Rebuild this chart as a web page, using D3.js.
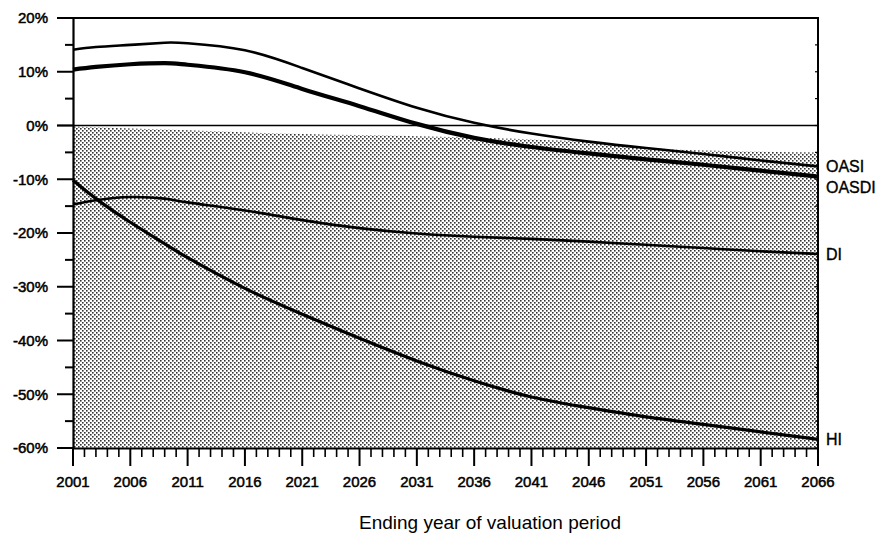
<!DOCTYPE html>
<html><head><meta charset="utf-8">
<script src="https://cdn.jsdelivr.net/npm/d3@7/dist/d3.min.js"></script>
<style>
html,body{margin:0;padding:0;background:#fff;overflow:hidden;}
text{font-family:"Liberation Sans",Arial,Helvetica,sans-serif;fill:#000;}
</style></head>
<body>
<svg id="chart" width="882" height="539"></svg>
<script>
// ---- data ----
const years = [2001,2003,2006,2009,2011,2016,2021,2026,2031,2036,2041,2046,2051,2056,2061,2066];
const oasi  = [14.1,14.6,15.0,15.4,15.3,14.0,10.7,6.9,3.3,0.5,-1.5,-3.0,-4.2,-5.3,-6.5,-7.6];
const oasdi = [10.4,10.9,11.4,11.6,11.3,9.9,6.8,3.6,0.3,-2.3,-4.0,-5.2,-6.3,-7.3,-8.4,-9.5];
const di    = [-14.7,-13.9,-13.3,-13.6,-14.3,-15.8,-17.6,-19.1,-20.1,-20.7,-21.1,-21.6,-22.2,-22.8,-23.4,-23.9];
const hi    = [-10.2,-13.6,-18.0,-22.0,-24.6,-30.3,-35.1,-39.6,-43.8,-47.5,-50.5,-52.5,-54.2,-55.6,-57.0,-58.4];
const shadeYears = [2001,2011,2021,2031,2041,2047,2053,2066];
const shadeTop   = [-0.2,-0.9,-1.6,-2.0,-2.6,-3.2,-4.4,-5.0];
const seriesNames = ["OASI","OASDI","DI","HI"];
const xTickYears = d3.range(2001, 2067, 5);
const yTickValues = [20,10,0,-10,-20,-30,-40,-50,-60];
const xTitle = "Ending year of valuation period";

// ---- layout ----
const svg = d3.select("#chart");
const L = 73, R = 818, T = 18, B = 448;
const x = d3.scaleLinear().domain([2001,2066]).range([L,R]);
const y = d3.scaleLinear().domain([-60,20]).range([B,T]);

// pattern
const defs = svg.append("defs");
const pat = defs.append("pattern").attr("id","dots").attr("patternUnits","userSpaceOnUse")
  .attr("width",4).attr("height",4);
pat.append("rect").attr("x",0).attr("y",0).attr("width",1.6).attr("height",1.6).attr("fill","#333");
pat.append("rect").attr("x",2).attr("y",2).attr("width",1.6).attr("height",1.6).attr("fill","#333");

// shaded area
const shadeData = shadeYears.map((yr,i)=>({yr, v: shadeTop[i]}));
svg.append("path").datum(shadeData)
  .attr("fill","url(#dots)")
  .attr("d", d3.area().x(d=>x(d.yr)).y0(y(-60)).y1(d=>y(d.v)).curve(d3.curveMonotoneX));

// zero line
svg.append("line").attr("x1",L-16).attr("x2",R).attr("y1",y(0)).attr("y2",y(0))
  .attr("stroke","#000").attr("stroke-width",1.6);

// frame: top & right
svg.append("line").attr("x1",L-16).attr("x2",R+1).attr("y1",T).attr("y2",T).attr("stroke","#000").attr("stroke-width",2);
svg.append("line").attr("x1",R).attr("x2",R).attr("y1",T).attr("y2",B).attr("stroke","#000").attr("stroke-width",2);

// left axis
const yAxis = svg.append("g").attr("transform",`translate(${L},0)`);
yAxis.call(d3.axisLeft(y).tickValues(d3.range(-60,21,5)).tickSize(0).tickFormat(""));
yAxis.select(".domain").attr("stroke","#000").attr("stroke-width",2.2);
yAxis.selectAll(".tick line").remove();
d3.range(-60,21,5).forEach(v=>{
  const major = v % 10 === 0;
  yAxis.append("line").attr("x1",major?-16:-8).attr("x2",0).attr("y1",y(v)).attr("y2",y(v))
    .attr("stroke","#000").attr("stroke-width",2);
});
yTickValues.forEach(v=>{
  yAxis.append("text").attr("x",-25).attr("y",y(v)).attr("dy","0.36em")
    .attr("text-anchor","end").attr("font-size",15).attr("stroke","#000").attr("stroke-width",0.5)
    .text(v+"%");
});

// right small ticks
d3.range(-60,21,5).forEach(v=>{
  svg.append("line").attr("x1",R-3).attr("x2",R).attr("y1",y(v)).attr("y2",y(v))
    .attr("stroke","#000").attr("stroke-width",1.2);
});

// bottom axis
const xAxis = svg.append("g").attr("transform",`translate(0,${B})`);
xAxis.call(d3.axisBottom(x).tickValues(d3.range(2001,2067,1)).tickSize(0).tickFormat(""));
xAxis.select(".domain").attr("stroke","#000").attr("stroke-width",2.2);
xAxis.selectAll(".tick line").remove();
d3.range(2001,2067,1).forEach(yr=>{
  const major = (yr-2001) % 5 === 0;
  xAxis.append("line").attr("x1",x(yr)).attr("x2",x(yr)).attr("y1",0).attr("y2",major?18:9)
    .attr("stroke","#000").attr("stroke-width",major?2:1.6);
});
xTickYears.forEach(yr=>{
  xAxis.append("text").attr("x",x(yr)).attr("y",39).attr("text-anchor","middle")
    .attr("font-size",15).attr("stroke","#000").attr("stroke-width",0.5).text(yr);
});
svg.append("line").attr("x1",L-16).attr("x2",L).attr("y1",B).attr("y2",B).attr("stroke","#000").attr("stroke-width",2);

// series lines
const seriesVals = [oasi, oasdi, di, hi];
const widths = [2.6, 4.2, 2.6, 3.2];
const line = d3.line().x(d=>x(d[0])).y(d=>y(d[1])).curve(d3.curveNatural);
seriesVals.forEach((vals,i)=>{
  svg.append("path").datum(years.map((yr,j)=>[yr, vals[j]]))
    .attr("fill","none").attr("stroke","#000").attr("stroke-width",widths[i])
    .attr("stroke-linejoin","round").attr("d", line);
});

// series labels
const labelDy = [0, 11, 0, 0];
seriesNames.forEach((n,i)=>{
  const v = seriesVals[i][seriesVals[i].length-1];
  svg.append("text").attr("x",R+8).attr("y",y(v)+labelDy[i]).attr("dy","0.36em")
    .attr("font-size",16).attr("stroke","#000").attr("stroke-width",0.35).text(n);
});

// x title
svg.append("text").attr("x",490).attr("y",529).attr("text-anchor","middle")
  .attr("font-size",19).text(xTitle);
</script>
</body></html>
